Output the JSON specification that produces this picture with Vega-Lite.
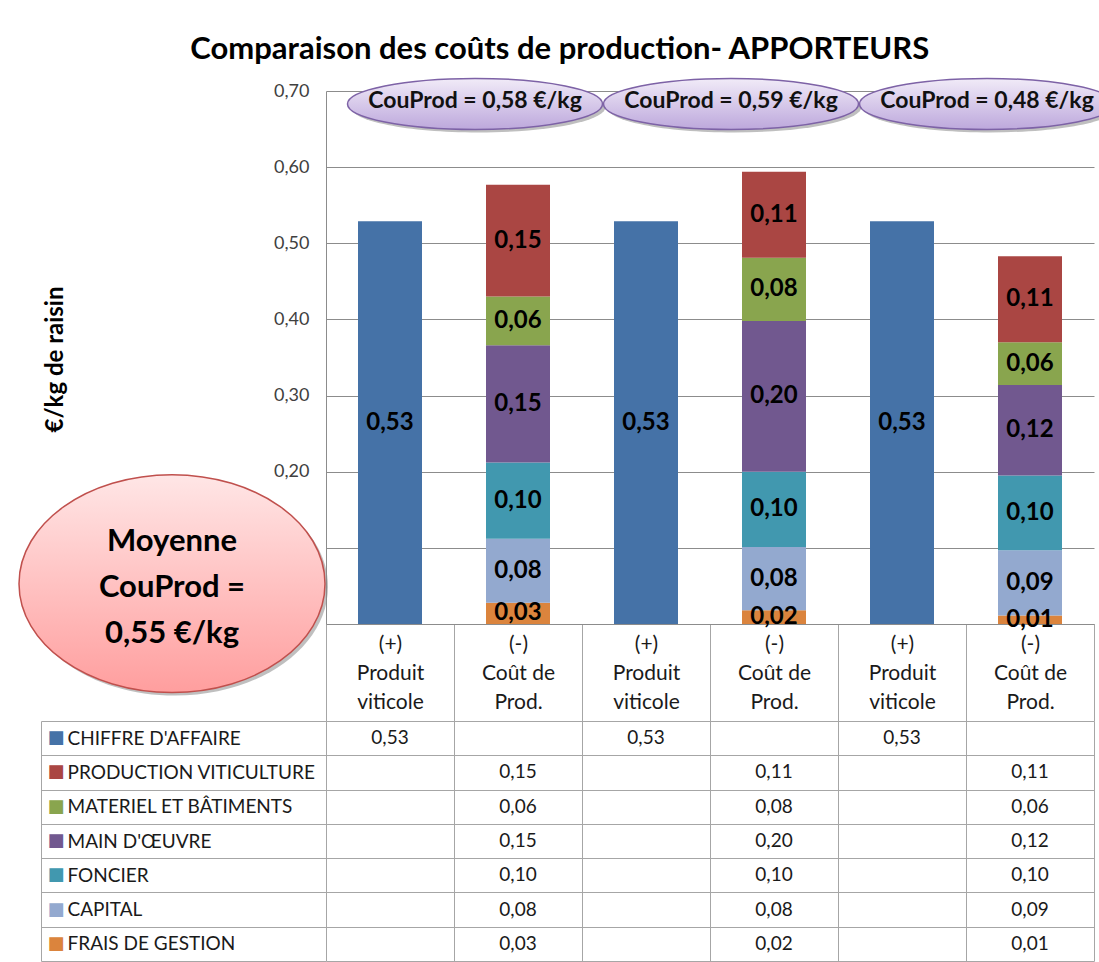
{
  "$schema": "https://vega.github.io/schema/vega-lite/v6.json",
  "background": "white",
  "padding": {"left": 16, "top": 34, "right": 0, "bottom": 0},
  "title": {"text": "Comparaison des coûts de production- APPORTEURS", "fontSize": 31, "fontWeight": "bold", "font": "Lato", "color": "#000000", "anchor": "middle", "offset": 9, "dx": -7},
  "config": {
    "locale": {"number": {"decimal": ",", "thousands": " ", "grouping": [3], "currency": ["", " €"]}},
    "font": "Lato",
    "view": {"stroke": null}
  },
  "datasets": {
    "costs": [
      {"cat": "P1", "series": "CHIFFRE D'AFFAIRE", "value": 0.529, "ord": 7},
      {"cat": "C1", "series": "FRAIS DE GESTION", "value": 0.028, "ord": 1},
      {"cat": "C1", "series": "CAPITAL", "value": 0.084, "ord": 2},
      {"cat": "C1", "series": "FONCIER", "value": 0.100, "ord": 3},
      {"cat": "C1", "series": "MAIN D'ŒUVRE", "value": 0.154, "ord": 4},
      {"cat": "C1", "series": "MATERIEL ET BÂTIMENTS", "value": 0.064, "ord": 5},
      {"cat": "C1", "series": "PRODUCTION VITICULTURE", "value": 0.147, "ord": 6},
      {"cat": "P2", "series": "CHIFFRE D'AFFAIRE", "value": 0.529, "ord": 7},
      {"cat": "C2", "series": "FRAIS DE GESTION", "value": 0.018, "ord": 1},
      {"cat": "C2", "series": "CAPITAL", "value": 0.083, "ord": 2},
      {"cat": "C2", "series": "FONCIER", "value": 0.099, "ord": 3},
      {"cat": "C2", "series": "MAIN D'ŒUVRE", "value": 0.198, "ord": 4},
      {"cat": "C2", "series": "MATERIEL ET BÂTIMENTS", "value": 0.083, "ord": 5},
      {"cat": "C2", "series": "PRODUCTION VITICULTURE", "value": 0.113, "ord": 6},
      {"cat": "P3", "series": "CHIFFRE D'AFFAIRE", "value": 0.529, "ord": 7},
      {"cat": "C3", "series": "FRAIS DE GESTION", "value": 0.011, "ord": 1},
      {"cat": "C3", "series": "CAPITAL", "value": 0.086, "ord": 2},
      {"cat": "C3", "series": "FONCIER", "value": 0.098, "ord": 3},
      {"cat": "C3", "series": "MAIN D'ŒUVRE", "value": 0.119, "ord": 4},
      {"cat": "C3", "series": "MATERIEL ET BÂTIMENTS", "value": 0.056, "ord": 5},
      {"cat": "C3", "series": "PRODUCTION VITICULTURE", "value": 0.113, "ord": 6}
    ],
    "couprod": [
      {"cat": "C1", "label": "CouProd = 0,58 €/kg"},
      {"cat": "C2", "label": "CouProd = 0,59 €/kg"},
      {"cat": "C3", "label": "CouProd = 0,48 €/kg"}
    ],
    "moyenne": [
      {"label": "Moyenne\nCouProd =\n0,55 €/kg"}
    ]
  },
  "bounds": "flush",
  "spacing": 97,
  "vconcat": [
    {
      "width": 768,
      "height": 533,
      "layer": [
        {
          "data": {"name": "costs"},
          "transform": [
            {"stack": "value", "groupby": ["cat"], "sort": [{"field": "ord", "order": "ascending"}], "as": ["v0", "v1"]},
            {"calculate": "(datum.v0 + datum.v1) / 2", "as": "mid"}
          ],
          "layer": [
            {
              "mark": {"type": "bar", "width": {"band": 0.5}},
              "encoding": {
                "x": {
                  "field": "cat", "type": "nominal", "sort": ["P1", "C1", "P2", "C2", "P3", "C3"],
                  "scale": {"paddingInner": 0, "paddingOuter": 0},
                  "axis": {
                    "title": null, "labelAngle": 0, "domainColor": "#8c8c8c", "tickColor": "#a6a6a6",
                    "tickBand": "extent", "tickSize": 97, "labelPadding": -88, "labelFontSize": 21,
                    "labelColor": "#1a1a1a", "labelLineHeight": 29, "labelBaseline": "top", "labelLimit": 0,
                    "labelExpr": "indexof(['P1','P2','P3'], datum.value) >= 0 ? ['(+)', 'Produit', 'viticole'] : (indexof(['C1','C2','C3'], datum.value) >= 0 ? ['(-)', 'Coût de', 'Prod.'] : '')"
                  }
                },
                "y": {
                  "field": "v0", "type": "quantitative", "title": "€/kg de raisin",
                  "scale": {"domain": [0, 0.7], "nice": false},
                  "axis": {
                    "values": [0, 0.1, 0.2, 0.3, 0.4, 0.5, 0.6, 0.7], "format": ".2f",
                    "grid": true, "gridColor": "#8c8c8c", "gridOpacity": 1, "ticks": false,
                    "domainColor": "#8c8c8c", "labelPadding": 17, "labelFontSize": 18, "labelColor": "#404040",
                    "titleFontSize": 24, "titleFontWeight": "bold", "titleColor": "#000000",
                    "titleX": -271, "titleY": 268, "titleAngle": -90, "titleAlign": "center", "titleBaseline": "middle"
                  }
                },
                "y2": {"field": "v1"},
                "color": {
                  "field": "series", "type": "nominal", "legend": null,
                  "scale": {
                    "domain": ["CHIFFRE D'AFFAIRE", "PRODUCTION VITICULTURE", "MATERIEL ET BÂTIMENTS", "MAIN D'ŒUVRE", "FONCIER", "CAPITAL", "FRAIS DE GESTION"],
                    "range": ["#4572A7", "#AA4643", "#89A54E", "#71588F", "#4198AF", "#93A9CF", "#DB843D"]
                  }
                }
              }
            },
            {
              "mark": {"type": "text", "fontSize": 24, "fontWeight": "bold", "color": "#000000", "baseline": "middle"},
              "encoding": {
                "x": {"field": "cat", "type": "nominal", "sort": ["P1", "C1", "P2", "C2", "P3", "C3"]},
                "y": {"field": "mid", "type": "quantitative", "title": "€/kg de raisin"},
                "text": {"field": "value", "type": "quantitative", "format": ".2f"}
              }
            }
          ]
        },
        {
          "data": {"name": "couprod"},
          "layer": [
            {
              "mark": {"type": "point", "filled": true, "size": 65025, "shape": "M -1 0 C -1 -0.11 -0.552 -0.2 0 -0.2 C 0.552 -0.2 1 -0.11 1 0 C 1 0.11 0.552 0.2 0 0.2 C -0.552 0.2 -1 0.11 -1 0 Z", "fill": "#8a8a8a", "opacity": 0.55, "xOffset": -40, "yOffset": 3},
              "encoding": {
                "x": {"field": "cat", "type": "nominal", "sort": ["P1", "C1", "P2", "C2", "P3", "C3"]},
                "y": {"datum": 0.683, "type": "quantitative", "title": "€/kg de raisin"}
              }
            },
            {
              "mark": {"type": "point", "filled": true, "size": 65025, "shape": "M -1 0 C -1 -0.11 -0.552 -0.2 0 -0.2 C 0.552 -0.2 1 -0.11 1 0 C 1 0.11 0.552 0.2 0 0.2 C -0.552 0.2 -1 0.11 -1 0 Z", "fill": {"gradient": "linear", "x1": 0, "y1": 0, "x2": 0, "y2": 1, "stops": [{"offset": 0, "color": "#F1EBF8"}, {"offset": 1, "color": "#BDA8DC"}]}, "stroke": "#7D62A6", "strokeWidth": 1.5, "opacity": 1, "xOffset": -43},
              "encoding": {
                "x": {"field": "cat", "type": "nominal", "sort": ["P1", "C1", "P2", "C2", "P3", "C3"]},
                "y": {"datum": 0.683, "type": "quantitative", "title": "€/kg de raisin"}
              }
            },
            {
              "mark": {"type": "text", "fontSize": 23, "fontWeight": "bold", "color": "#111111", "xOffset": -43, "dy": -3},
              "encoding": {
                "x": {"field": "cat", "type": "nominal", "sort": ["P1", "C1", "P2", "C2", "P3", "C3"]},
                "y": {"datum": 0.683, "type": "quantitative", "title": "€/kg de raisin"},
                "text": {"field": "label", "type": "nominal"}
              }
            }
          ]
        },
        {
          "data": {"name": "moyenne"},
          "layer": [
            {
              "mark": {"type": "point", "filled": true, "size": 93636, "shape": "M -1 0 C -1 -0.393 -0.552 -0.712 0 -0.712 C 0.552 -0.712 1 -0.393 1 0 C 1 0.393 0.552 0.712 0 0.712 C -0.552 0.712 -1 0.393 -1 0 Z", "fill": "#8a8a8a", "opacity": 0.55, "xOffset": -215, "yOffset": 3},
              "encoding": {
                "x": {"datum": "P1", "type": "nominal"},
                "y": {"datum": 0.053, "type": "quantitative", "title": "€/kg de raisin"}
              }
            },
            {
              "mark": {"type": "point", "filled": true, "size": 93636, "shape": "M -1 0 C -1 -0.393 -0.552 -0.712 0 -0.712 C 0.552 -0.712 1 -0.393 1 0 C 1 0.393 0.552 0.712 0 0.712 C -0.552 0.712 -1 0.393 -1 0 Z", "fill": {"gradient": "linear", "x1": 0, "y1": 0, "x2": 0, "y2": 1, "stops": [{"offset": 0, "color": "#FFE6E6"}, {"offset": 1, "color": "#FF9E9E"}]}, "stroke": "#C0504D", "strokeWidth": 1.5, "opacity": 1, "xOffset": -218},
              "encoding": {
                "x": {"datum": "P1", "type": "nominal"},
                "y": {"datum": 0.053, "type": "quantitative", "title": "€/kg de raisin"}
              }
            },
            {
              "mark": {"type": "text", "fontSize": 31, "fontWeight": "bold", "color": "#000000", "lineBreak": "\n", "lineHeight": 46, "xOffset": -218, "baseline": "middle", "dy": -42},
              "encoding": {
                "x": {"datum": "P1", "type": "nominal"},
                "y": {"datum": 0.053, "type": "quantitative", "title": "€/kg de raisin"},
                "text": {"field": "label", "type": "nominal"}
              }
            }
          ]
        }
      ]
    },
    {
      "width": 768,
      "height": 240,
      "data": {"name": "costs"},
      "layer": [
        {
          "mark": {"type": "text", "fontSize": 19, "color": "#1a1a1a"},
          "encoding": {
            "x": {
              "field": "cat", "type": "nominal", "sort": ["P1", "C1", "P2", "C2", "P3", "C3"],
              "scale": {"paddingInner": 0, "paddingOuter": 0},
              "axis": {"orient": "top", "title": null, "labels": false, "ticks": false, "domain": false, "grid": true, "tickBand": "extent", "gridColor": "#a6a6a6", "gridOpacity": 1}
            },
            "y": {
              "field": "series", "type": "nominal",
              "sort": ["CHIFFRE D'AFFAIRE", "PRODUCTION VITICULTURE", "MATERIEL ET BÂTIMENTS", "MAIN D'ŒUVRE", "FONCIER", "CAPITAL", "FRAIS DE GESTION"],
              "scale": {"paddingInner": 0, "paddingOuter": 0},
              "axis": {"title": null, "grid": true, "tickBand": "extent", "gridColor": "#a6a6a6", "gridOpacity": 1, "ticks": true, "tickSize": 285, "tickColor": "#a6a6a6", "domain": false, "labelAlign": "left", "labelPadding": -26, "labelFontSize": 19, "labelColor": "#1a1a1a", "labelLimit": 0}
            },
            "text": {"field": "value", "type": "quantitative", "format": ".2f"}
          }
        },
        {
          "mark": {"type": "point", "opacity": 0},
          "encoding": {
            "y": {
              "field": "series", "type": "nominal",
              "sort": ["CHIFFRE D'AFFAIRE", "PRODUCTION VITICULTURE", "MATERIEL ET BÂTIMENTS", "MAIN D'ŒUVRE", "FONCIER", "CAPITAL", "FRAIS DE GESTION"],
              "axis": {
                "orient": "left", "offset": 285, "title": null, "grid": false, "ticks": false, "domain": true, "domainColor": "#a6a6a6",
                "labelExpr": "'■'", "labelAlign": "left", "labelPadding": -6, "labelFontSize": 18, "labelFont": "DejaVu Sans",
                "labelColor": {
                  "condition": [
                    {"test": "test(/^CHIFFRE/, datum.value)", "value": "#4572A7"},
                    {"test": "test(/^PRODUCTION/, datum.value)", "value": "#AA4643"},
                    {"test": "test(/^MATERIEL/, datum.value)", "value": "#89A54E"},
                    {"test": "test(/^MAIN/, datum.value)", "value": "#71588F"},
                    {"test": "test(/^FONCIER/, datum.value)", "value": "#4198AF"},
                    {"test": "test(/^CAPITAL/, datum.value)", "value": "#93A9CF"}
                  ],
                  "value": "#DB843D"
                }
              }
            }
          }
        }
      ],
      "resolve": {"axis": {"y": "independent"}}
    }
  ]
}
